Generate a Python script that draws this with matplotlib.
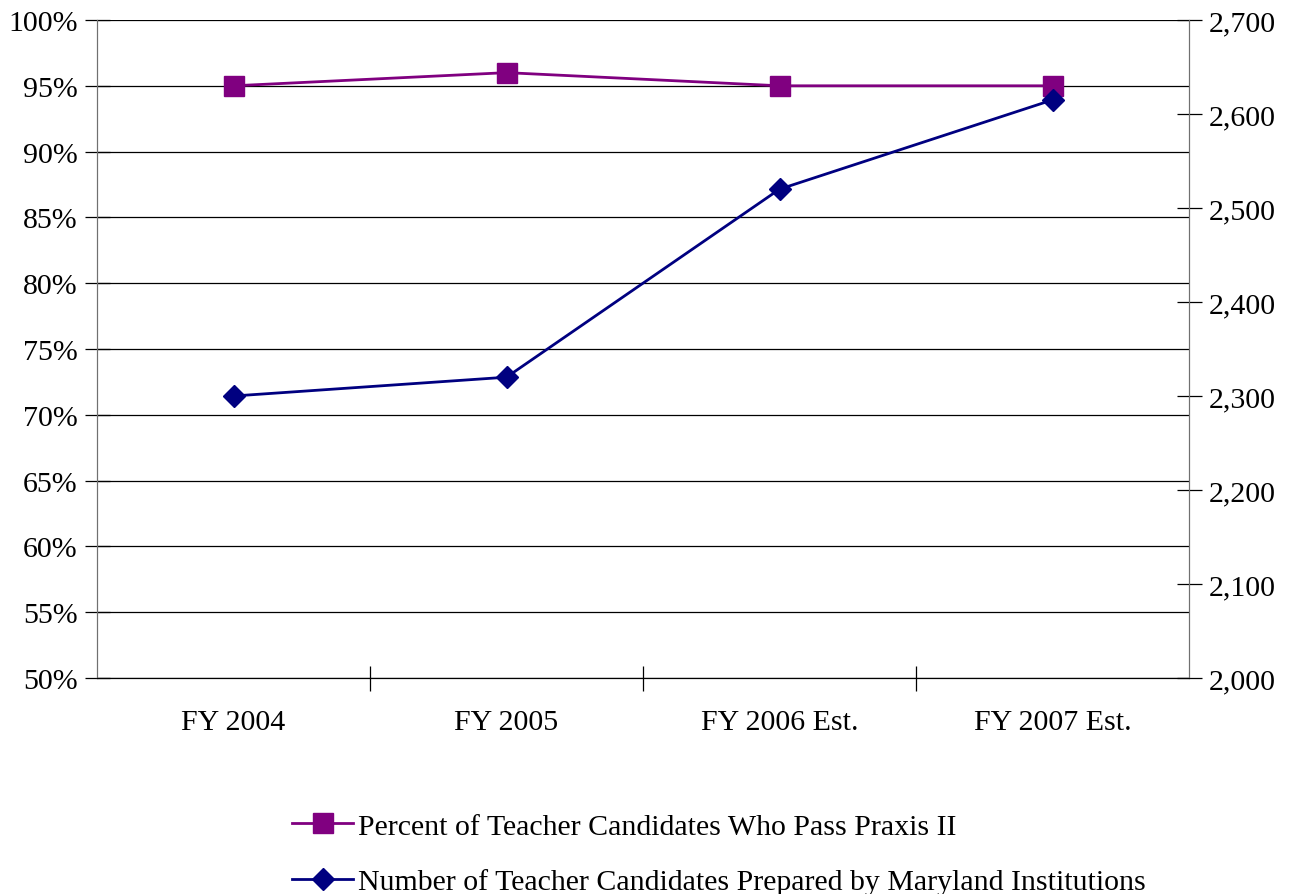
import matplotlib.pyplot as plt
from matplotlib.ticker import FuncFormatter, MultipleLocator, FixedLocator

categories = ["FY 2004", "FY 2005", "FY 2006 Est.", "FY 2007 Est."]
pass_rate = [95, 96, 95, 95]
candidates = [2300, 2320, 2520, 2615]

label_pass = "Percent of Teacher Candidates Who Pass Praxis II"
label_count = "Number of Teacher Candidates Prepared by Maryland Institutions"

plt.rcParams["font.family"] = ["Liberation Serif", "DejaVu Serif"]
plt.rcParams["font.size"] = 21.5

fig = plt.figure(figsize=(12.95, 8.95), dpi=100)
ax = fig.add_axes([97 / 1295, 1 - 679 / 895, 1092 / 1295, 658 / 895])
ax2 = ax.twinx()

x = list(range(len(categories)))

# left axis: percentages with gridlines every 5%
ax.set_ylim(50, 100)
ax.yaxis.set_major_locator(MultipleLocator(5))
ax.yaxis.set_major_formatter(FuncFormatter(lambda v, p: f"{v:.0f}%"))
ax.grid(axis="y", color="black", linewidth=0.9)
ax.set_axisbelow(True)

# right axis: counts
ax2.set_ylim(2000, 2700)
ax2.yaxis.set_major_locator(MultipleLocator(100))
ax2.yaxis.set_major_formatter(FuncFormatter(lambda v, p: f"{v:,.0f}"))

ax.set_xlim(-0.5, len(categories) - 0.5)
ax.set_xticks(x)
ax.set_xticklabels(categories)
ax.xaxis.set_minor_locator(FixedLocator([0.5, 1.5, 2.5]))
ax.tick_params(axis="x", which="major", length=0, pad=22)
ax.tick_params(axis="x", which="minor", direction="inout", length=18, width=0.9)
ax.tick_params(axis="y", direction="inout", length=18, width=0.9, pad=5)
ax2.tick_params(axis="y", direction="inout", length=18, width=0.9, pad=5)

for a in (ax, ax2):
    a.spines["top"].set_visible(False)
    a.spines["left"].set_color("#707070")
    a.spines["right"].set_color("#707070")
    a.spines["bottom"].set_color("black")

l1, = ax.plot(x, pass_rate, color="#800080", linewidth=2.0, marker="s",
              markersize=14, label=label_pass, zorder=3)
l2, = ax2.plot(x, candidates, color="#000080", linewidth=2.0, marker="D",
               markersize=11, label=label_count, zorder=3)

fig.legend([l1, l2], [label_pass, label_count], loc="upper left",
           bbox_to_anchor=(292 / 1295, 1 - 814 / 895), frameon=False,
           handlelength=2.05, handletextpad=0.17, labelspacing=0.95,
           borderaxespad=0, borderpad=0)

fig.savefig("out.png", dpi=100)
